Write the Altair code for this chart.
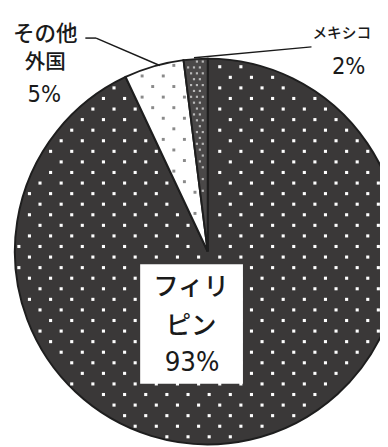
import numpy as np
import pandas as pd
import altair as alt

# ---- data ----
categories = ["フィリピン", "その他外国", "メキシコ"]
shares = [93, 5, 2]
fills = ["#3a3838", "#ffffff", "#4a4848"]

W, H = 380, 439
CX, CY, R = 204, 244, 197

pie_df = pd.DataFrame({"cat": categories, "share": shares, "ord": [0, 1, 2]})

# ---- texture dots (pattern decoration inside each slice) ----
total = float(sum(shares))
bounds = []
acc = 0.0
for s in shares:
    bounds.append((acc / total * 2 * np.pi, (acc + s) / total * 2 * np.pi))
    acc += s


def texture(idx, sx, sy, x0, y0, margin):
    a0, a1 = bounds[idx]
    rows = []
    ys = np.arange(y0 - 60 * sy, H + sy, sy)
    for j, yy in enumerate(ys):
        off = (sx / 2) if (j % 2) else 0.0
        xs = np.arange(x0 + off - 40 * sx, W + sx, sx)
        for xx in xs:
            dx, dy = xx - CX, yy - CY
            r = np.hypot(dx, dy)
            if r > R - margin or r < 1e-6 or xx < 0 or yy < 0:
                continue
            th = np.arctan2(dx, -dy) % (2 * np.pi)
            if not (a0 <= th <= a1):
                continue
            dmin = min(th - a0, a1 - th)
            if r * np.sin(min(dmin, np.pi / 2)) < margin:
                continue
            rows.append({"px": xx, "py": yy})
    return pd.DataFrame(rows)


dots_ph = texture(0, 21.6, 10.8, 11.1, 303.7, 3.0)
dots_ot = texture(1, 21.6, 10.8, 7.4, 64.7, 3.0)
dots_mx = texture(2, 6.0, 6.0, 1.0, 2.0, 2.5)

xs = alt.Scale(domain=[0, W], range=[0, W])
ys = alt.Scale(domain=[0, H], range=[0, H])

pie = alt.Chart(pie_df).mark_arc(radius=R, stroke="#1e1e1e", strokeWidth=2).encode(
    theta=alt.Theta("share:Q", stack=True),
    order=alt.Order("ord:O"),
    color=alt.Color("cat:N", scale=alt.Scale(domain=categories, range=fills), legend=None),
    x=alt.value(CX),
    y=alt.value(CY),
)


def dot_layer(df, color, size, opacity=1.0):
    return alt.Chart(df).mark_point(shape="square", filled=True, size=size, color=color,
                                    opacity=opacity, strokeWidth=0).encode(
        x=alt.X("px:Q", scale=xs, axis=None),
        y=alt.Y("py:Q", scale=ys, axis=None),
    )


d1 = dot_layer(dots_ph, "#ffffff", 10)
d2 = dot_layer(dots_ot, "#8a8a8a", 9)
d3 = dot_layer(dots_mx, "#b8b8b8", 5)

box = alt.Chart(pie_df.head(1)).mark_rect(color="white").encode(
    x=alt.value(135), x2=alt.value(240), y=alt.value(257), y2=alt.value(379)
)

jp = "Noto Sans CJK JP"
num = "Liberation Sans Narrow, DejaVu Sans Condensed, Roboto, Noto Sans CJK JP"


def txt(s, x, y, size, font, align="center", weight="normal"):
    return alt.Chart(pie_df.head(1)).mark_text(
        text=s, font=font, fontSize=size, align=align, baseline="middle", color="#1a1a1a",
        fontWeight=weight
    ).encode(x=alt.value(x), y=alt.value(y))


labels = [
    txt("その他", 38, 22, 22, jp, weight=500),
    txt("外国", 38, 52, 21, jp, weight=500),
    txt("5%", 37, 84, 24, num),
    txt("メキシコ", 311, 21, 15, jp, "left", weight=500),
    txt("2%", 348, 56, 24, num),
    txt("フィリ", 187, 280, 26, jp, weight=500),
    txt("ピン", 187, 320, 26, jp, weight=500),
    txt("93%", 188, 358, 28, num),
]


def rule(x1, y1, x2, y2):
    return alt.Chart(pie_df.head(1)).mark_rule(color="#1a1a1a", strokeWidth=1.5).encode(
        x=alt.value(x1), y=alt.value(y1), x2=alt.value(x2), y2=alt.value(y2)
    )


lines = [
    rule(79, 26, 90, 26),
    rule(90, 26, 155, 54),
    rule(310, 35, 190, 46),
]

chart = alt.layer(pie, d1, d2, d3, box, *labels, *lines).properties(
    width=W, height=H, padding=0, autosize=alt.AutoSizeParams(type="none")
).configure_view(stroke=None)

chart.save("out.html", embed_options={"renderer": "svg", "actions": False})
